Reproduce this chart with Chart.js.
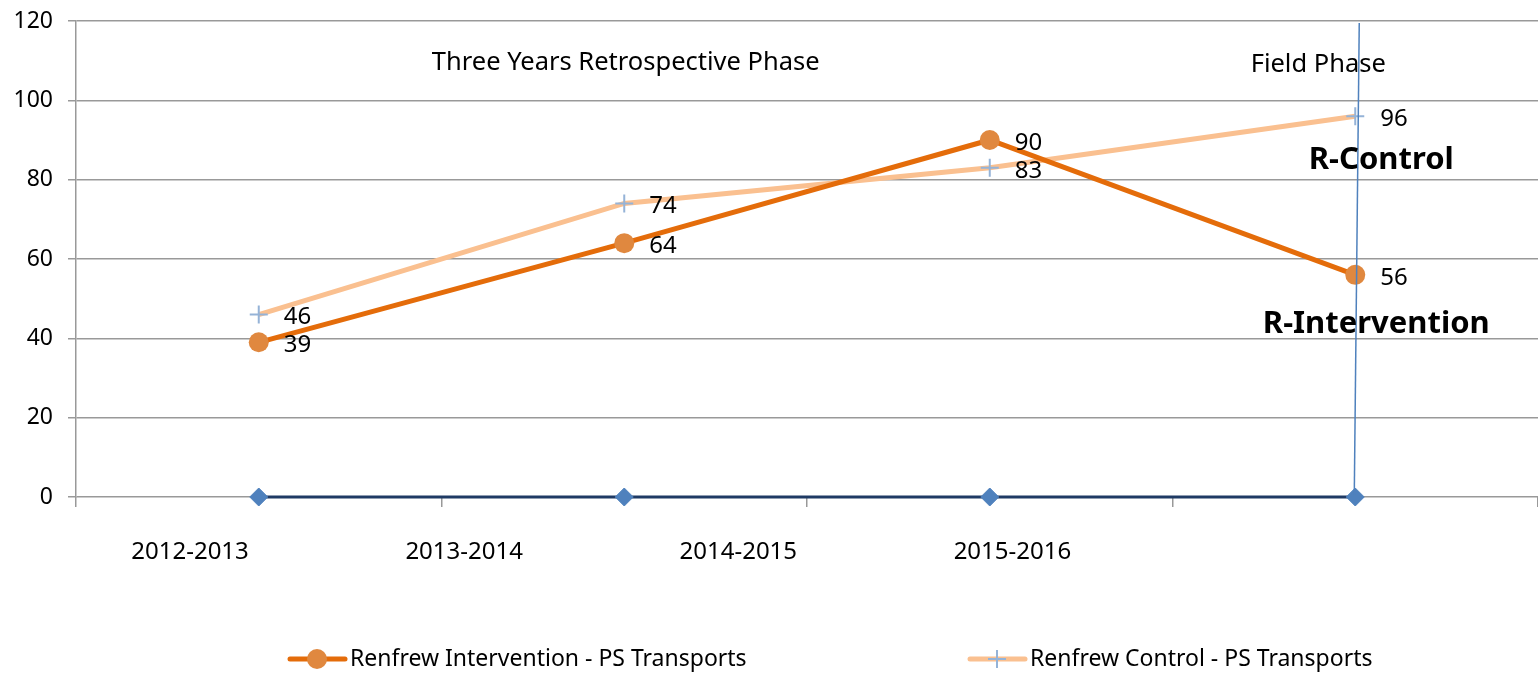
<!DOCTYPE html>
<html lang="en">
<head>
  <meta charset="UTF-8" />
  <title>Renfrew PS Transports</title>
  <style>
    html, body { margin: 0; padding: 0; background: #ffffff; }
    #wrap { width: 1538px; height: 673px; }
  </style>
  <script src="https://cdn.jsdelivr.net/npm/chart.js"></script>
</head>
<body>
  <div id="wrap"><canvas id="chart" width="1538" height="673"></canvas></div>
  <script>
    // data
    const categories = ["2012-2013", "2013-2014", "2014-2015", "2015-2016"];
    const interventionValues = [39, 64, 90, 56];
    const controlValues = [46, 74, 83, 96];
    const baselineValues = [0, 0, 0, 0];
    const yMin = 0, yMax = 120, yStep = 20;
    const seriesNames = ["Renfrew Intervention - PS Transports", "Renfrew Control - PS Transports"];

    const FONT = "'Noto Sans', sans-serif";

    // values printed to the right of the points (series 0 and 1)
    const valueLabels = {
      id: "valueLabels",
      afterDatasetsDraw(chart) {
        const ctx = chart.ctx;
        ctx.save();
        ctx.font = "24px " + FONT;
        ctx.fillStyle = "#000";
        ctx.textBaseline = "middle";
        ctx.textAlign = "left";
        [0, 1].forEach((di) => {
          const meta = chart.getDatasetMeta(di);
          meta.data.forEach((pt, i) => {
            ctx.fillText(String(chart.data.datasets[di].data[i]), pt.x + 25, pt.y + 3);
          });
        });
        ctx.restore();
      },
    };

    // category labels under the axis, vertical phase line, notes, legend
    const extras = {
      id: "extras",
      afterDraw(chart) {
        const ctx = chart.ctx;
        const a = chart.chartArea;
        const xs = chart.scales.x, ys = chart.scales.y;
        const w = a.right - a.left;
        ctx.save();

        // x labels (spread differently from the data points in the original)
        ctx.font = "24px " + FONT;
        ctx.fillStyle = "#000";
        ctx.textAlign = "center";
        ctx.textBaseline = "middle";
        categories.forEach((c, i) => {
          ctx.fillText(c, a.left + w * (0.078 + 0.1875 * i), a.bottom + 55);
        });

        // phase divider line
        const lx = xs.getPixelForValue(3);
        ctx.strokeStyle = "#4F81BD";
        ctx.lineWidth = 1.5;
        ctx.beginPath();
        ctx.moveTo(lx - 1, ys.getPixelForValue(0));
        ctx.lineTo(lx + 4, ys.getPixelForValue(119.5));
        ctx.stroke();

        // phase titles
        ctx.fillStyle = "#000";
        ctx.font = "25.5px " + FONT;
        ctx.fillText("Three Years Retrospective Phase", a.left + w * 0.376, ys.getPixelForValue(109.4));
        ctx.fillText("Field Phase", lx - 37, ys.getPixelForValue(108.9));

        ctx.font = "bold 31px " + FONT;
        ctx.fillText("R-Control", lx + 26, ys.getPixelForValue(85));
        ctx.fillText("R-Intervention", lx + 21, ys.getPixelForValue(43.5));

        // legend
        const ly = 659;
        const legendX = [290, 970];
        [0, 1].forEach((di) => {
          const ds = chart.data.datasets[di];
          const x0 = legendX[di];
          ctx.strokeStyle = ds.borderColor;
          ctx.lineWidth = ds.borderWidth;
          ctx.lineCap = "round";
          ctx.beginPath();
          ctx.moveTo(x0, ly);
          ctx.lineTo(x0 + 55, ly);
          ctx.stroke();
          ctx.fillStyle = ds.pointBackgroundColor;
          ctx.strokeStyle = ds.pointBorderColor;
          ctx.lineWidth = ds.pointBorderWidth;
          ctx.lineCap = "butt";
          ctx.beginPath();
          if (ds.pointStyle === "circle") {
            ctx.arc(x0 + 27, ly, ds.pointRadius, 0, Math.PI * 2);
            ctx.fill();
          } else {
            ctx.moveTo(x0 + 27 - ds.pointRadius, ly);
            ctx.lineTo(x0 + 27 + ds.pointRadius, ly);
            ctx.moveTo(x0 + 27, ly - ds.pointRadius);
            ctx.lineTo(x0 + 27, ly + ds.pointRadius);
            ctx.stroke();
          }
          ctx.fillStyle = "#000";
          ctx.font = "23px " + FONT;
          ctx.textAlign = "left";
          ctx.fillText(seriesNames[di], x0 + 60, ly);
        });
        ctx.restore();
      },
    };

    function noPadding(scale) {
      scale.paddingLeft = 0;
      scale.paddingRight = 0;
      scale.paddingTop = 0;
      scale.paddingBottom = 0;
    }

    new Chart(document.getElementById("chart"), {
      type: "line",
      data: {
        labels: categories,
        datasets: [
          {
            label: seriesNames[0],
            data: interventionValues,
            borderColor: "#E46C0A",
            borderWidth: 5,
            pointStyle: "circle",
            pointRadius: 10,
            pointBackgroundColor: "#E0883F",
            pointBorderColor: "#E0883F",
            pointBorderWidth: 0,
            tension: 0,
            clip: false,
          },
          {
            label: seriesNames[1],
            data: controlValues,
            borderColor: "#FAC090",
            borderWidth: 5,
            pointStyle: "cross",
            pointRadius: 9,
            pointBackgroundColor: "#95B3D7",
            pointBorderColor: "#95B3D7",
            pointBorderWidth: 2,
            tension: 0,
            clip: false,
          },
          {
            label: "Baseline",
            data: baselineValues,
            borderColor: "#1F3A64",
            borderWidth: 3,
            pointStyle: "rectRot",
            pointRadius: 9,
            pointBackgroundColor: "#4F81BD",
            pointBorderColor: "#4F81BD",
            pointBorderWidth: 1,
            tension: 0,
            clip: false,
          },
        ],
      },
      options: {
        responsive: false,
        animation: false,
        layout: { autoPadding: false, padding: { left: 10, right: -2, top: 21, bottom: 166 } },
        plugins: {
          legend: { display: false },
          tooltip: { enabled: false },
        },
        scales: {
          x: {
            offset: true,
            afterFit: noPadding,
            grid: {
              offset: true,
              drawOnChartArea: false,
              drawTicks: true,
              tickLength: 10,
              color: "#999",
              lineWidth: 1.5,
            },
            border: { display: false },
            ticks: { display: false },
          },
          y: {
            min: yMin,
            max: yMax,
            afterFit(scale) {
              noPadding(scale);
              scale.width = 66;
            },
            ticks: {
              stepSize: yStep,
              color: "#000",
              font: { family: FONT, size: 23 },
              padding: 15,
            },
            grid: { color: "#999", lineWidth: 1.5, tickLength: 8 },
            border: { color: "#999", width: 1.5 },
          },
        },
      },
      plugins: [valueLabels, extras],
    });
  </script>
</body>
</html>
